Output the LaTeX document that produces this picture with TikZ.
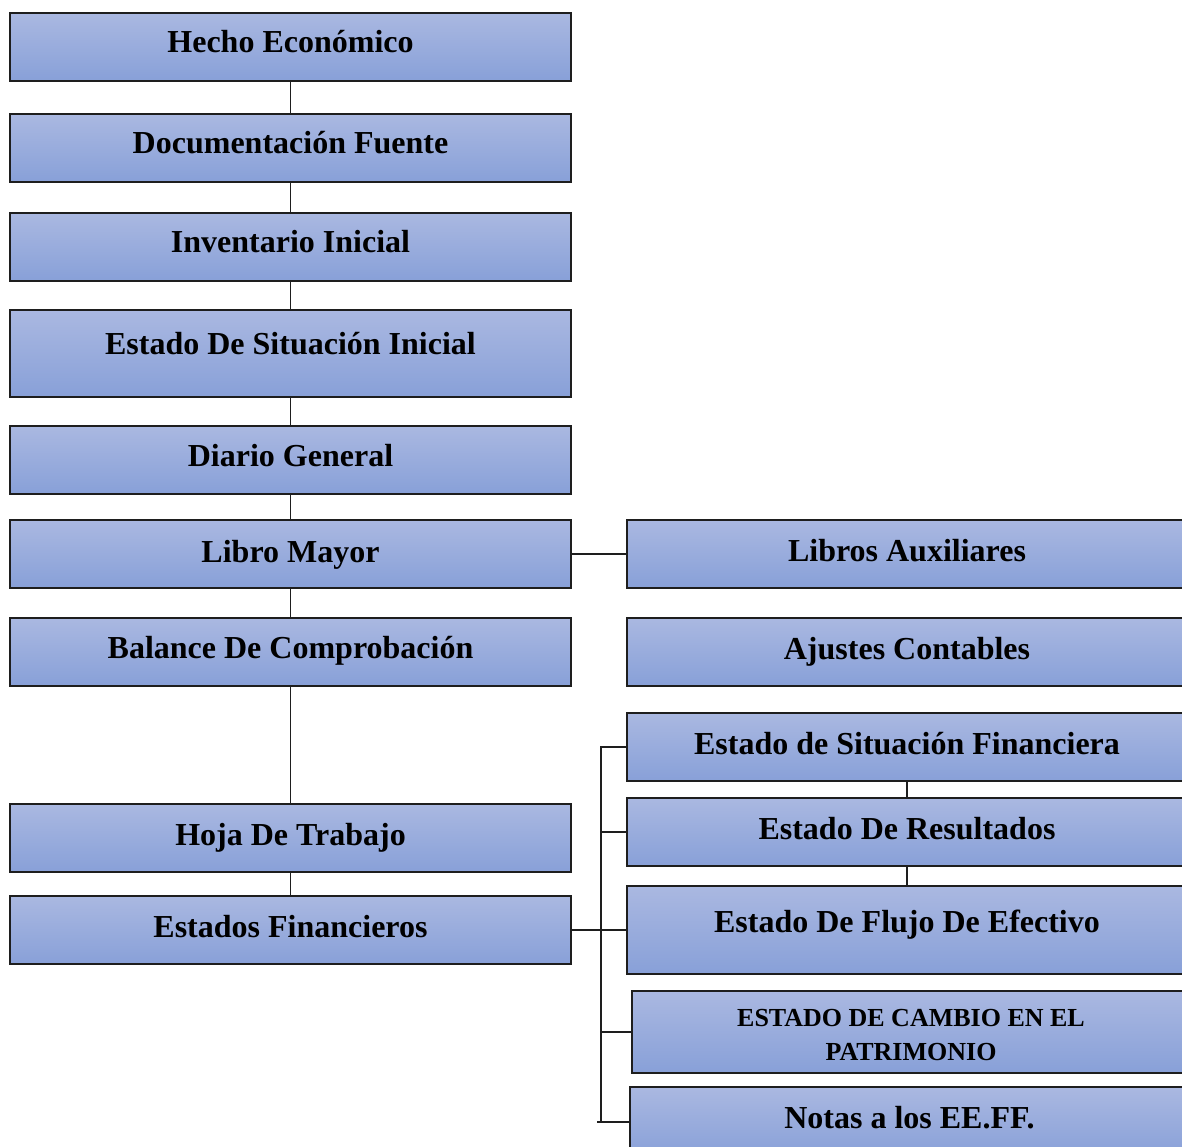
\documentclass[tikz,border=0pt]{standalone}
\usepackage{fontspec}
\setmainfont{Liberation Serif}
\definecolor{boxtop}{RGB}{170,184,225}
\definecolor{boxbot}{RGB}{136,160,216}
\definecolor{edge}{RGB}{30,30,30}
\tikzset{
  box/.style={draw=edge, line width=1.4pt, top color=boxtop, bottom color=boxbot, inner sep=0pt, minimum height=68pt},
  lbox/.style={box, minimum width=561pt},
  rbox/.style={box, minimum width=560pt},
  lbl/.style={anchor=base, inner sep=0pt, font=\bfseries\fontsize{32}{38}\selectfont},
  slbl/.style={anchor=base, inner sep=0pt, font=\bfseries\fontsize{26}{32}\selectfont},
  conn/.style={draw=edge, line width=1.3pt}
}
\begin{document}
\begin{tikzpicture}[x=1pt,y=-1pt]
\clip (0,0) rectangle (1182,1147);
\fill[white] (0,0) rectangle (1182,1147);
% left column
\node[lbox] (hecho) at (290.5,47) {};
\node[lbl] (thecho) at (290.5,53) {Hecho Económico};
\node[lbox] (docu) at (290.5,148) {};
\node[lbl] (tdocu) at (290.5,154) {Documentación Fuente};
\node[lbox] (inve) at (290.5,247) {};
\node[lbl] (tinve) at (290.5,253) {Inventario Inicial};
\node[lbox, minimum height=87pt] (esi) at (290.5,353.5) {};
\node[lbl] (tesi) at (290.5,354) {Estado De Situación Inicial};
\node[lbox] (diario) at (290.5,460) {};
\node[lbl] (tdiario) at (290.5,466) {Diario General};
\node[lbox] (mayor) at (290.5,554) {};
\node[lbl] (tmayor) at (290.5,562) {Libro Mayor};
\node[lbox] (balance) at (290.5,652) {};
\node[lbl] (tbalance) at (290.5,658) {Balance De Comprobación};
\node[lbox] (hoja) at (290.5,838) {};
\node[lbl] (thoja) at (290.5,845) {Hoja De Trabajo};
\node[lbox] (ef) at (290.5,930) {};
\node[lbl] (tef) at (290.5,937) {Estados Financieros};
% right column
\node[rbox] (aux) at (907,554) {};
\node[lbl] (taux) at (907,561) {Libros Auxiliares};
\node[rbox] (ajus) at (907,652) {};
\node[lbl] (tajus) at (907,659) {Ajustes Contables};
\node[rbox] (esf) at (907,747) {};
\node[lbl] (tesf) at (907,754) {Estado de Situación Financiera};
\node[rbox] (er) at (907,832) {};
\node[lbl] (ter) at (907,839) {Estado De Resultados};
\node[rbox, minimum height=88pt] (efe) at (907,930) {};
\node[lbl] (tefe) at (907,932) {Estado De Flujo De Efectivo};
\node[rbox, minimum height=82pt] (ecp) at (912,1032) {};
\node[slbl] (tecpa) at (911,1026) {ESTADO DE CAMBIO EN EL};
\node[slbl] (tecpb) at (911,1060) {PATRIMONIO};
\node[rbox, minimum height=70pt] (notas) at (910,1122) {};
\node[lbl] (tnotas) at (909.5,1128) {Notas a los EE.FF.};
% connectors
\draw[conn] (hecho.south) -- (docu.north);
\draw[conn] (docu.south) -- (inve.north);
\draw[conn] (inve.south) -- (esi.north);
\draw[conn] (esi.south) -- (diario.north);
\draw[conn] (diario.south) -- (mayor.north);
\draw[conn] (mayor.south) -- (balance.north);
\draw[conn] (balance.south) -- (hoja.north);
\draw[conn] (hoja.south) -- (ef.north);
\draw[conn] (mayor.east) -- (aux.west);
\draw[conn] (esf.south) -- (er.north);
\draw[conn] (er.south) -- (efe.north);
\draw[conn] (ef.east) -- (efe.west);
\coordinate (brtop) at (601,747);
\coordinate (brbot) at (601,1122);
\draw[conn] (esf.west) -- (esf.west -| brtop) -- (brbot);
\draw[conn] (er.west) -- (er.west -| brtop);
\draw[conn] (ecp.west) -- (ecp.west -| brtop);
\draw[conn] (notas.west) -- ([xshift=-4pt]notas.west -| brtop);
\end{tikzpicture}
\end{document}
